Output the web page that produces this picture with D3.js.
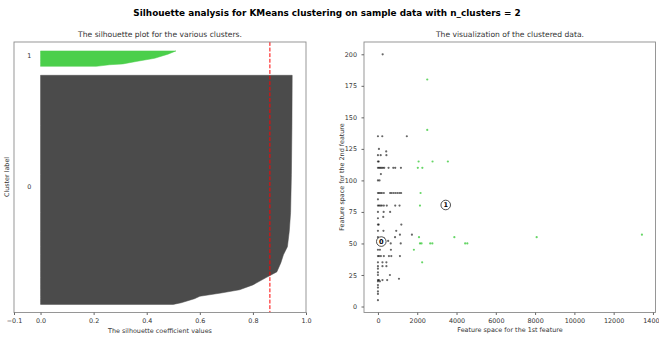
<!DOCTYPE html>
<html>
<head>
<meta charset="utf-8">
<script src="https://cdn.jsdelivr.net/npm/d3@7"></script>
<style>
body { margin: 0; background: #fff; }
text { font-family: "DejaVu Sans", sans-serif; fill: #333; }
</style>
</head>
<body>
<script>
// silhouette plot data
const silTicks = [-0.1, 0, 0.2, 0.4, 0.6, 0.8, 1.0];
const clusterSizes = [283, 20];
const clusterColors = ['#000000', '#00bb00'];
const sil0Rank = [0, 2, 7, 10, 14, 18, 24, 33, 40, 51, 61, 71, 90, 113, 160, 220, 282];
const sil0Value = [0.50, 0.53, 0.58, 0.60, 0.68, 0.75, 0.80, 0.85, 0.89, 0.905, 0.915, 0.93, 0.937, 0.942, 0.945, 0.947, 0.948];
const sil1Rank = [0, 2, 3, 6, 10, 15, 19];
const sil1Value = [0.21, 0.26, 0.31, 0.36, 0.43, 0.48, 0.51];
const silhouetteAvg = 0.864;

// scatter data
const featXTicks = [0, 2000, 4000, 6000, 8000, 10000, 12000, 14000];
const featYTicks = [0, 25, 50, 75, 100, 125, 150, 175, 200];
const cluster0Points = [
    [240, 200],
    [0, 135], [220, 135], [1470, 135],
    [50, 125], [420, 123],
    [0, 120], [140, 120], [430, 120],
    [0, 115], [40, 115],
    [0, 110], [60, 110], [120, 110], [180, 110], [250, 110], [320, 110], [540, 110], [780, 110], [880, 110], [1170, 110],
    [150, 105],
    [0, 100], [80, 100],
    [0, 90], [60, 90], [130, 90], [200, 90], [300, 90], [620, 90], [700, 90], [800, 90], [900, 90], [1000, 90], [1100, 90], [1180, 90],
    [0, 85],
    [0, 80], [60, 80], [130, 80], [200, 80], [300, 80], [450, 80], [880, 80], [1100, 80],
    [0, 75], [290, 75], [620, 75],
    [270, 71],
    [0, 70],
    [0, 65], [40, 65], [1190, 65],
    [0, 60], [280, 60], [930, 60],
    [1120, 57], [1730, 57],
    [0, 55], [870, 55], [310, 54], [520, 52],
    [0, 50], [80, 50], [650, 50], [1160, 50],
    [0, 45], [100, 45], [660, 45],
    [0, 40], [60, 40], [150, 40], [300, 40], [560, 40], [680, 40], [1120, 40],
    [0, 35], [230, 35], [430, 35],
    [0, 32], [230, 32], [430, 32],
    [0, 30], [0, 27],
    [0, 25], [610, 25],
    [1070, 22],
    [0, 21], [50, 21], [230, 21], [470, 21],
    [0, 20], [100, 20],
    [0, 17], [0, 15], [0, 12], [0, 10], [0, 5]
];
const cluster1Points = [
    [2510, 180], [2510, 140], [2070, 115], [2780, 115], [3560, 115], [2030, 110], [2260, 110],
    [2170, 90], [2140, 80], [2090, 55], [3890, 55], [8080, 55], [13440, 57],
    [2140, 50], [2220, 50], [2660, 50], [2770, 50], [4440, 50], [4550, 50], [1830, 45], [2250, 35]
];
const centers = [[170, 51.5], [3450, 80.5]];

const svg = d3.select('body')
    .append('svg')
    .attr('width', 659)
    .attr('height', 338);

svg.append('text')
    .attr('x', 327)
    .attr('y', 16)
    .attr('text-anchor', 'middle')
    .style('font-size', '8.9px')
    .style('font-weight', 'bold')
    .style('fill', '#000')
    .text('Silhouette analysis for KMeans clustering on sample data with n_clusters = 2');

function frame(x0, x1, y0, y1) {
    svg.append('rect')
        .attr('x', x0)
        .attr('y', y0)
        .attr('width', x1 - x0)
        .attr('height', y1 - y0)
        .attr('fill', 'none')
        .attr('stroke', '#8c8c8c')
        .attr('stroke-width', 0.9);
}

function styleAxis(g) {
    g.select('.domain').remove();
    g.selectAll('line').attr('stroke', '#666');
    g.selectAll('text').style('font-size', '6.4px').style('font-family', '"DejaVu Sans", sans-serif').attr('fill', '#333');
}

// ---- left: silhouette plot
const silX = d3.scaleLinear().domain([-0.1, 1.0]).range([14, 306]);
const silY = d3.scaleLinear()
    .domain([0, d3.sum(clusterSizes) + 10 * (clusterSizes.length + 1)])
    .range([312.5, 42]);

const silRanks = [sil0Rank, sil1Rank];
const silValues = [sil0Value, sil1Value];
let yLower = 10;
clusterSizes.forEach((size, i) => {
    const pts = silRanks[i].map((r, j) => ({ y: yLower + r, v: silValues[i][j] }));
    const area = d3.area()
        .y(d => silY(d.y))
        .x0(silX(0))
        .x1(d => silX(d.v));
    svg.append('path')
        .attr('d', area(pts))
        .attr('fill', clusterColors[i])
        .attr('stroke', clusterColors[i])
        .attr('stroke-width', 0.5)
        .attr('opacity', 0.7);
    svg.append('text')
        .attr('x', silX(-0.05))
        .attr('y', silY(yLower + 0.5 * size))
        .style('font-size', '6.4px')
        .text(i);
    yLower += size + 10;
});

svg.append('line')
    .attr('x1', silX(silhouetteAvg))
    .attr('x2', silX(silhouetteAvg))
    .attr('y1', silY.range()[1])
    .attr('y2', silY.range()[0])
    .attr('stroke', 'red')
    .attr('stroke-width', 1)
    .attr('stroke-dasharray', '3.9,1.7');

frame(14, 306, 42, 312.5);

svg.append('g')
    .attr('transform', 'translate(0,312.5)')
    .call(d3.axisBottom(silX).tickValues(silTicks).tickSize(2.5).tickPadding(3).tickFormat(d3.format('.1f')))
    .call(styleAxis);

svg.append('text')
    .attr('x', 160)
    .attr('y', 37)
    .attr('text-anchor', 'middle')
    .style('font-size', '7.6px')
    .text('The silhouette plot for the various clusters.');
svg.append('text')
    .attr('x', 160)
    .attr('y', 332.5)
    .attr('text-anchor', 'middle')
    .style('font-size', '6.4px')
    .text('The silhouette coefficient values');
svg.append('text')
    .attr('transform', 'translate(9.3,177) rotate(-90)')
    .attr('text-anchor', 'middle')
    .style('font-size', '6.4px')
    .text('Cluster label');

// ---- right: clustered data
const featX = d3.scaleLinear().domain([-710, 14130]).range([364, 655.5]);
const featY = d3.scaleLinear().domain([-4.75, 209.75]).range([312.5, 42]);

[cluster0Points, cluster1Points].forEach((pts, i) => {
    svg.append('g')
        .selectAll('circle')
        .data(pts)
        .enter()
        .append('circle')
        .attr('cx', d => featX(d[0]))
        .attr('cy', d => featY(d[1]))
        .attr('r', 1.1)
        .attr('fill', clusterColors[i])
        .attr('opacity', 0.6);
});

const centerG = svg.append('g')
    .selectAll('g')
    .data(centers)
    .enter()
    .append('g')
    .attr('transform', d => `translate(${featX(d[0])},${featY(d[1])})`);
centerG.append('circle')
    .attr('r', 4.8)
    .attr('fill', '#fff')
    .attr('stroke', '#222')
    .attr('stroke-width', 0.8);
centerG.append('text')
    .attr('text-anchor', 'middle')
    .attr('dy', '0.36em')
    .style('font-size', '6.6px')
    .style('font-weight', 'bold')
    .style('fill', '#000')
    .text((d, i) => i);

frame(364, 655.5, 42, 312.5);

svg.append('g')
    .attr('transform', 'translate(0,312.5)')
    .call(d3.axisBottom(featX).tickValues(featXTicks).tickSize(2.5).tickPadding(3).tickFormat(d3.format('d')))
    .call(styleAxis);
svg.append('g')
    .attr('transform', 'translate(364,0)')
    .call(d3.axisLeft(featY).tickValues(featYTicks).tickSize(2.5).tickPadding(4.5).tickFormat(d3.format('d')))
    .call(styleAxis);

svg.append('text')
    .attr('x', 510)
    .attr('y', 37)
    .attr('text-anchor', 'middle')
    .style('font-size', '7.6px')
    .text('The visualization of the clustered data.');
svg.append('text')
    .attr('x', 510)
    .attr('y', 331.5)
    .attr('text-anchor', 'middle')
    .style('font-size', '6.4px')
    .text('Feature space for the 1st feature');
svg.append('text')
    .attr('transform', 'translate(343.5,177) rotate(-90)')
    .attr('text-anchor', 'middle')
    .style('font-size', '6.4px')
    .text('Feature space for the 2nd feature');
</script>
</body>
</html>
